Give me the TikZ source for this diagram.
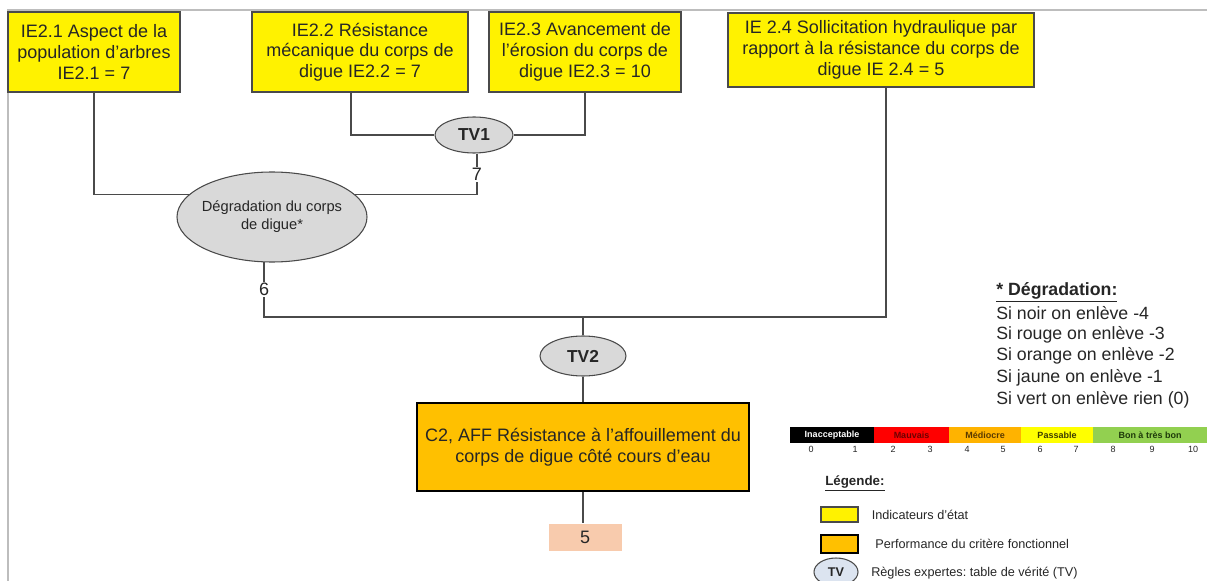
\documentclass[tikz,border=0pt]{standalone}
\usepackage{fontspec}
\setmainfont{Liberation Sans}
\usepackage{xcolor}
\usetikzlibrary{positioning, shapes.geometric}
\frenchspacing
\newcommand{\pxu}{0.75pt}
\definecolor{txtgray}{HTML}{262626}
\definecolor{linegray}{HTML}{4A4A4A}
\definecolor{framegray}{HTML}{BDBDBD}
\definecolor{ovalgray}{HTML}{D9D9D9}
\definecolor{critorange}{HTML}{FFC000}
\definecolor{valpeach}{HTML}{F8CBAD}
\definecolor{tvblue}{HTML}{DCE4F0}
\definecolor{scred}{HTML}{FF0000}
\definecolor{scorange}{HTML}{FFB300}
\definecolor{scyellow}{HTML}{FFFF00}
\definecolor{scgreen}{HTML}{92D050}
\definecolor{lblred}{HTML}{6E0000}
\definecolor{lblbrown}{HTML}{5A3A00}
\definecolor{lblolive}{HTML}{3D3D00}
\definecolor{lblgreen}{HTML}{1E3A0A}
\tikzset{
  iebox/.style    = {draw=linegray, line width=1pt, fill=yellow, minimum height=80*\pxu,
                     align=center, inner sep=2pt, text=txtgray,
                     font=\fontsize{13.5}{15.5}\selectfont},
  critbox/.style  = {draw=black, line width=2.2pt, fill=critorange, align=center,
                     minimum width=332*\pxu, minimum height=88*\pxu, text=txtgray,
                     font=\fontsize{13.5}{16}\selectfont},
  tvnode/.style   = {ellipse, draw=linegray, line width=0.8pt, fill=ovalgray, inner sep=0pt,
                     text=txtgray, font=\fontsize{13}{15}\selectfont\bfseries},
  degnode/.style  = {ellipse, draw=linegray, line width=0.8pt, fill=ovalgray, align=center,
                     inner xsep=-4pt, inner ysep=0pt, minimum width=190*\pxu,
                     minimum height=90*\pxu, text=txtgray, font=\fontsize{11}{13.5}\selectfont},
  valbox/.style   = {fill=valpeach, minimum width=73*\pxu, minimum height=27*\pxu,
                     inner sep=0pt, text=txtgray, font=\fontsize{13.5}{15}\selectfont},
  link/.style     = {draw=linegray, line width=1.1pt},
  numlbl/.style   = {fill=white, inner sep=1pt, text=txtgray, font=\fontsize{13.5}{15}\selectfont},
  noteline/.style = {anchor=west, inner sep=0pt, text=txtgray, font=\fontsize{13.3}{15}\selectfont},
  scaleseg/.style = {draw=none, minimum height=16*\pxu, inner sep=0pt,
                     font=\fontsize{6.75}{8}\selectfont\bfseries},
  scalenum/.style = {inner sep=0pt, text=txtgray, font=\fontsize{6.75}{8}\selectfont},
  legtxt/.style   = {anchor=west, inner sep=0pt, text=txtgray, font=\fontsize{9.5}{11}\selectfont},
  legbox/.style   = {minimum width=37*\pxu, inner sep=0pt}
}

\begin{document}
\begin{tikzpicture}[x=0.75pt, y=-0.75pt]
  \useasboundingbox (0,0) rectangle (1207,581);
  % page frame
  \draw[framegray, line width=1.5pt] (7.5,581) -- (7.5,10.5) -- (1207,10.5);

  % state indicators
  \node[iebox, minimum width=172*\pxu] (ie21) at (94,52)
    {IE2.1 Aspect de la\\population d'arbres\\IE2.1 = 7};
  \node[iebox, minimum width=216*\pxu] (ie22) at (360,52)
    {IE2.2 Résistance\\mécanique du corps de\\digue IE2.2 = 7};
  \node[iebox, minimum width=192*\pxu] (ie23) at (585,52)
    {IE2.3 Avancement de\\l'érosion du corps de\\digue IE2.3 = 10};
  \node[iebox, minimum width=306*\pxu, minimum height=74*\pxu] (ie24) at (881,50)
    {IE 2.4 Sollicitation hydraulique par\\rapport à la résistance du corps de\\digue IE 2.4 = 5};

  % truth tables
  \node[tvnode, minimum width=78*\pxu, minimum height=36*\pxu] (tv1) at (474,135) {TV1};
  \node[degnode] (deg) at (272,217) {Dégradation du corps\\de digue*};
  \node[tvnode, minimum width=86*\pxu, minimum height=40*\pxu] (tv2) at (583,356) {TV2};
  \coordinate (j2) at (583,317);

  % criterion and value
  \node[critbox] (c2) at (583,447)
    {C2, AFF Résistance à l'affouillement du\\corps de digue côté cours d'eau};
  \node[valbox] (val) at (585,537) {5};

  % connectors
  \draw[link] (ie22.south -| 351,0) |- (tv1.west);
  \draw[link] (ie23.south) |- (tv1.east);
  \draw[link] (ie21.south) |- (deg.165);
  \draw[link] (tv1.south -| 477,0) |- (deg.15)
    node[numlbl, pos=0.25] {7};
  \draw[link] (deg.260) |- (j2)
    node[numlbl, pos=0.25] {6};
  \draw[link] (ie24.south -| 886,0) |- (j2);
  \draw[link] (j2) -- (tv2.north);
  \draw[link] (tv2.south) -- (c2.north);
  \draw[link] (c2.south) -- (c2.south |- val.north);

  % degradation note
  \node[noteline, font=\fontsize{13.3}{15}\selectfont\bfseries] (dtitle) at (996,292)
    {\underline{* Dégradation:}};
  \node[noteline] (d1) at (996,313) {Si noir on enlève -4};
  \node[noteline] (d2) at (996,334.5) {Si rouge on enlève -3};
  \node[noteline] (d3) at (996,356) {Si orange on enlève -2};
  \node[noteline] (d4) at (996,378) {Si jaune on enlève -1};
  \node[noteline] (d5) at (996,400) {Si vert on enlève rien (0)};

  % colour scale
  \node[scaleseg, fill=black, text=white, minimum width=84*\pxu] (s1) at (832,435) {Inacceptable};
  \node[scaleseg, fill=scred, text=lblred, minimum width=75*\pxu] (s2) at (911.5,435) {Mauvais};
  \node[scaleseg, fill=scorange, text=lblbrown, minimum width=72*\pxu] (s3) at (985,435) {Médiocre};
  \node[scaleseg, fill=scyellow, text=lblolive, minimum width=72*\pxu] (s4) at (1057,435) {Passable};
  \node[scaleseg, fill=scgreen, text=lblgreen, minimum width=114*\pxu] (s5) at (1150,435) {Bon à très bon};
  \foreach \v/\xx in {0/811, 1/855, 2/893, 3/930, 4/967, 5/1003, 6/1040, 7/1076, 8/1113, 9/1152, 10/1193}
    \node[scalenum] (n\v) at (\xx,449) {\v};

  % legend
  \node[legtxt, font=\fontsize{10}{12}\selectfont\bfseries] (legtitle) at (825,483) {\underline{Légende:}};
  \node[legbox, draw=linegray, line width=0.8pt, fill=yellow, minimum height=15*\pxu] (lg1) at (839.5,514.5) {};
  \node[legtxt, right=13*\pxu of lg1] (lt1) {Indicateurs d'état};
  \node[legbox, draw=black, line width=1.8pt, fill=critorange, minimum height=18*\pxu] (lg2) at (839.5,544) {};
  \node[legtxt, right=16*\pxu of lg2] (lt2) {Performance du critère fonctionnel};
  \node[ellipse, draw=linegray, line width=0.8pt, fill=tvblue, minimum width=44*\pxu,
        minimum height=28*\pxu, inner sep=0pt, text=txtgray,
        font=\fontsize{9.5}{11}\selectfont\bfseries] (lg3) at (836,572) {TV};
  \node[legtxt, anchor=west] (lt3) at (871,573) {Règles expertes: table de vérité (TV)};
\end{tikzpicture}
\end{document}
